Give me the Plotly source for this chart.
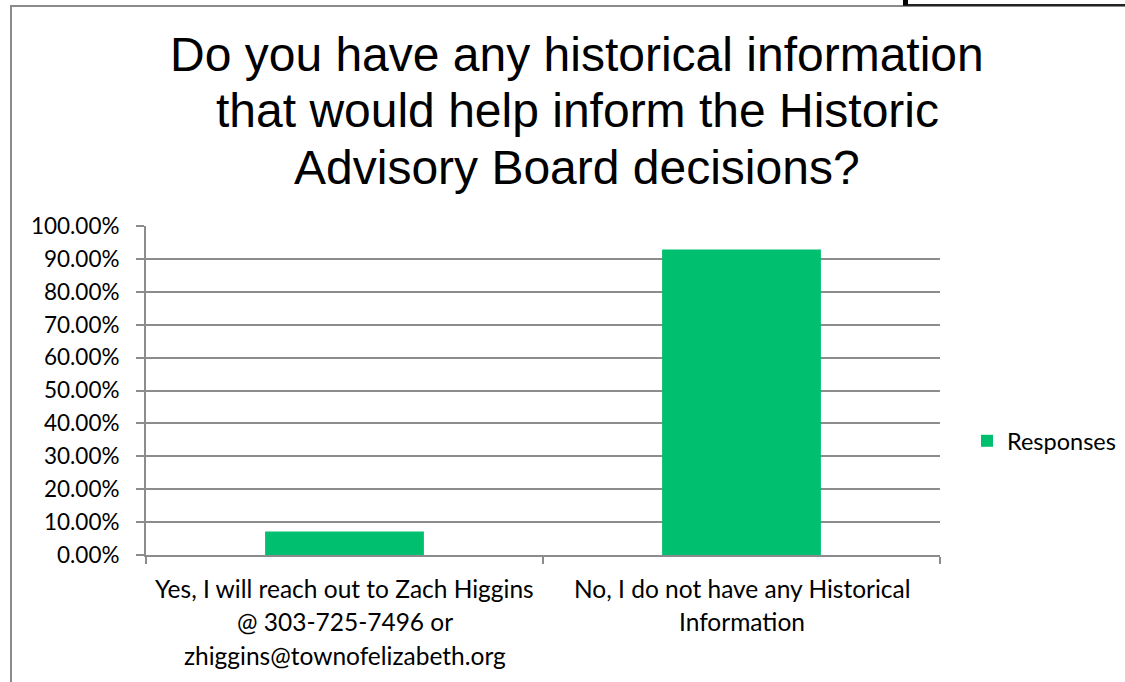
import plotly.graph_objects as go

# Survey results
categories = [
    "Yes, I will reach out to Zach Higgins<br>@ 303-725-7496 or<br>zhiggins@townofelizabeth.org",
    "No, I do not have any Historical<br>Information",
]
responses = [0.0714, 0.9286]
series_name = "Responses"
title_lines = [
    "Do you have any historical information",
    "that would help inform the Historic",
    "Advisory Board decisions?",
]

W, H = 1125, 682
L, R, T, B = 146, 940, 226, 555  # plot area in pixels

def px_x(p):
    return (p - L) / (R - L)

def px_y(p):
    return (B - p) / (B - T)

GREEN = "#00BF6F"
GRID = "#8c8c8c"
FONT = "Lato, Open Sans, sans-serif"

fig = go.Figure(
    go.Bar(
        x=categories,
        y=responses,
        name=series_name,
        marker=dict(color=GREEN, line=dict(width=0)),
        showlegend=True,
    )
)

annotations = []
# Title, one annotation per line for Excel-like line spacing
for i, line in enumerate(title_lines):
    annotations.append(dict(
        text=line, xref="paper", yref="paper",
        x=px_x(577), y=px_y(55 + 56 * i),
        xanchor="center", yanchor="middle", showarrow=False,
        font=dict(family="Liberation Sans, Arial, sans-serif", size=48, color="#000000"),
    ))

# Category labels under the axis
for cat in categories:
    for li, line in enumerate(cat.split("<br>")):
        annotations.append(dict(
            text=line, xref="x", yref="paper",
            x=cat, y=px_y(588 + 33.5 * li),
            xanchor="center", yanchor="middle", showarrow=False,
            font=dict(family=FONT, size=24.5, color="#000000"),
        ))

shapes = [
    # chart frame
    dict(type="rect", xref="paper", yref="paper",
         x0=px_x(11), x1=px_x(1135), y0=px_y(6), y1=px_y(700),
         line=dict(color="#8a8a8a", width=2), fillcolor="rgba(0,0,0,0)"),
    # dark page rule at the top right
    dict(type="line", xref="paper", yref="paper",
         x0=px_x(903), x1=px_x(1130), y0=px_y(5), y1=px_y(5),
         line=dict(color="#222222", width=2)),
    dict(type="rect", xref="paper", yref="paper",
         x0=px_x(903), x1=px_x(908), y0=px_y(-2), y1=px_y(5),
         line=dict(width=0), fillcolor="#000000"),
]

fig.update_layout(
    width=W, height=H,
    margin=dict(l=L, r=W - R, t=T, b=H - B, autoexpand=False),
    paper_bgcolor="white", plot_bgcolor="white",
    bargap=0.6,
    annotations=annotations,
    shapes=shapes,
    legend=dict(
        x=px_x(967), y=px_y(441), xanchor="left", yanchor="middle",
        font=dict(family=FONT, size=23.5, color="#000000"),
        bgcolor="rgba(0,0,0,0)",
        itemwidth=30,
    ),
    xaxis=dict(
        type="category",
        showticklabels=False,
        tickson="boundaries", ticks="outside", ticklen=7,
        tickcolor=GRID, tickwidth=2,
        showline=True, linecolor=GRID, linewidth=2,
        showgrid=False, zeroline=False, fixedrange=True,
    ),
    yaxis=dict(
        range=[0, 1], dtick=0.1, tick0=0, tickformat=".2%",
        ticks="outside", ticklen=8, tickcolor=GRID, tickwidth=2,
        showline=True, linecolor=GRID, linewidth=2,
        showgrid=True, gridcolor=GRID, gridwidth=2,
        zeroline=False,
        tickfont=dict(family=FONT, size=22.5, color="#000000"),
        ticklabelstandoff=12,
    ),
)

fig.write_html("out.html")
